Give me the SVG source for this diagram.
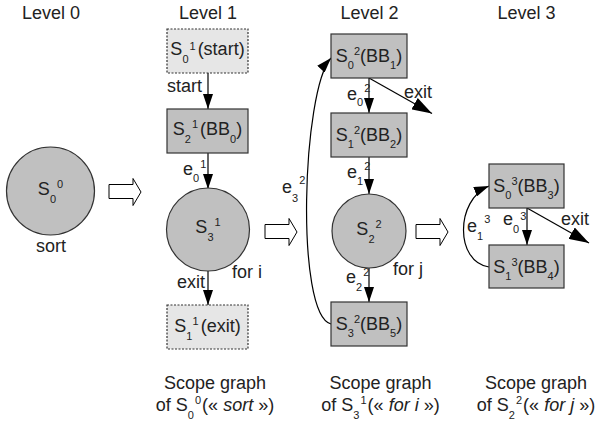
<svg xmlns="http://www.w3.org/2000/svg" width="599" height="426" viewBox="0 0 599 426">
<style>
text{font-family:"Liberation Sans",Arial,sans-serif;font-size:18px;fill:#222}
.m{text-anchor:middle}
.s{font-size:11px}
.i{font-style:italic}
.box{fill:#c0c0c0;stroke:#333;stroke-width:1.2}
.dbox{fill:#e6e6e6;stroke:#333;stroke-width:1.2;stroke-dasharray:2,1.5}
.circ{fill:#c0c0c0;stroke:#333;stroke-width:1.2}
.edge{fill:none;stroke:#000;stroke-width:1.2}
.blk{fill:#fff;stroke:#000;stroke-width:1}
</style>
<defs>
<marker id="arr" markerUnits="userSpaceOnUse" markerWidth="15" markerHeight="10" refX="15" refY="5" orient="auto">
<path d="M0,0 L15,5 L0,10 Z" fill="#000"/>
</marker>
<marker id="arrx" markerUnits="userSpaceOnUse" markerWidth="20" markerHeight="13" refX="20" refY="6.5" orient="auto">
<path d="M0,0 L20,6.5 L0,13 Z" fill="#000"/>
</marker>
<path id="blockArrow" d="M0,6 H24 V0 L32,13.5 L24,27 V20 H0 Z"/>
</defs>

<g id="titles">
<text class="m" x="51" y="19">Level 0</text>
<text class="m" x="208" y="19">Level 1</text>
<text class="m" x="369.5" y="19">Level 2</text>
<text class="m" x="526.5" y="19">Level 3</text>
</g>

<g id="transitions">
<use href="#blockArrow" class="blk" x="109" y="178.5"/>
<use href="#blockArrow" class="blk" x="265" y="218.5"/>
<use href="#blockArrow" class="blk" x="416" y="218.5"/>
</g>

<g id="connectors">
<line class="edge" x1="208" y1="73" x2="208" y2="109" marker-end="url(#arr)"/>
<line class="edge" x1="208" y1="153" x2="208" y2="189" marker-end="url(#arr)"/>
<line class="edge" x1="208" y1="271" x2="208" y2="305" marker-end="url(#arr)"/>
<line class="edge" x1="369" y1="78" x2="369" y2="113" marker-end="url(#arr)"/>
<line class="edge" x1="369" y1="78" x2="432" y2="113.5" marker-end="url(#arrx)"/>
<line class="edge" x1="369" y1="157" x2="369" y2="194" marker-end="url(#arr)"/>
<line class="edge" x1="369" y1="268" x2="369" y2="302" marker-end="url(#arr)"/>
<path class="edge" d="M331,324 C295,315 302,90 331,58" marker-end="url(#arr)"/>
<line class="edge" x1="527" y1="208" x2="527" y2="245" marker-end="url(#arr)"/>
<line class="edge" x1="527" y1="208" x2="589" y2="243" marker-end="url(#arrx)"/>
<path class="edge" d="M489,267 C455,262 455,200 489,186" marker-end="url(#arr)"/>
<text x="167" y="92">start</text>
<text x="183" y="175">e<tspan class="s" dy="7">0</tspan><tspan class="s" dx="1" dy="-14">1</tspan></text>
<text x="177" y="288">exit</text>
<text x="347" y="100">e<tspan class="s" dy="6">0</tspan><tspan class="s" dx="1" dy="-14">2</tspan></text>
<text x="404" y="98">exit</text>
<text x="347" y="178">e<tspan class="s" dy="7">1</tspan><tspan class="s" dx="1" dy="-15">2</tspan></text>
<text x="346" y="283">e<tspan class="s" dy="8">2</tspan><tspan class="s" dx="1" dy="-15">2</tspan></text>
<text x="282" y="193">e<tspan class="s" dy="9">3</tspan><tspan class="s" dx="1" dy="-18">2</tspan></text>
<text x="503" y="225">e<tspan class="s" dy="8">0</tspan><tspan class="s" dx="1" dy="-13">3</tspan></text>
<text x="561" y="225">exit</text>
<text x="467" y="232">e<tspan class="s" dy="8">1</tspan><tspan class="s" dx="1" dy="-17">3</tspan></text>
</g>

<g id="n_S00">
<circle class="circ" cx="50.5" cy="191" r="44"/>
<text class="m" x="50.5" y="195">S<tspan class="s" dy="8">0</tspan><tspan class="s" dx="1" dy="-15">0</tspan></text>
<text class="m" x="51" y="252">sort</text>
</g>

<g id="n_S01">
<rect class="dbox" x="167" y="29" width="81" height="44"/>
<text class="m" x="207.5" y="55">S<tspan class="s" dy="8">0</tspan><tspan class="s" dx="1" dy="-13">1</tspan><tspan dx="2" dy="5">(start)</tspan></text>
</g>

<g id="n_S21">
<rect class="box" x="167" y="109" width="81" height="44"/>
<text class="m" x="207.5" y="135">S<tspan class="s" dy="8">2</tspan><tspan class="s" dx="1" dy="-15">1</tspan><tspan dx="2" dy="7">(BB</tspan><tspan class="s" dy="8">0</tspan><tspan dy="-8">)</tspan></text>
</g>

<g id="n_S31">
<circle class="circ" cx="208" cy="229.5" r="41.5"/>
<text class="m" x="208" y="233">S<tspan class="s" dy="8">3</tspan><tspan class="s" dx="1" dy="-15">1</tspan></text>
<text x="232" y="278">for i</text>
</g>

<g id="n_S11">
<rect class="dbox" x="167" y="305" width="81" height="44"/>
<text class="m" x="207.5" y="332">S<tspan class="s" dy="8">1</tspan><tspan class="s" dx="1" dy="-15">1</tspan><tspan dx="2" dy="7">(exit)</tspan></text>
</g>

<g id="n_S02">
<rect class="box" x="331" y="34" width="76" height="44"/>
<text class="m" x="369" y="62">S<tspan class="s" dy="7">0</tspan><tspan class="s" dy="-14">2</tspan><tspan dy="7">(BB</tspan><tspan class="s" dy="7">1</tspan><tspan dy="-7">)</tspan></text>
</g>

<g id="n_S12">
<rect class="box" x="331" y="113" width="76" height="44"/>
<text class="m" x="369" y="141">S<tspan class="s" dy="7">1</tspan><tspan class="s" dy="-14">2</tspan><tspan dy="7">(BB</tspan><tspan class="s" dy="7">2</tspan><tspan dy="-7">)</tspan></text>
</g>

<g id="n_S22">
<circle class="circ" cx="369" cy="231" r="37"/>
<text class="m" x="369" y="235">S<tspan class="s" dy="8">2</tspan><tspan class="s" dx="1" dy="-15">2</tspan></text>
<text x="393" y="275">for j</text>
</g>

<g id="n_S32">
<rect class="box" x="331" y="302" width="76" height="44"/>
<text class="m" x="369" y="330">S<tspan class="s" dy="7">3</tspan><tspan class="s" dy="-14">2</tspan><tspan dy="7">(BB</tspan><tspan class="s" dy="7">5</tspan><tspan dy="-7">)</tspan></text>
</g>

<g id="n_S03">
<rect class="box" x="489" y="164" width="75" height="44"/>
<text class="m" x="526.5" y="192">S<tspan class="s" dy="7">0</tspan><tspan class="s" dy="-14">3</tspan><tspan dy="7">(BB</tspan><tspan class="s" dy="7">3</tspan><tspan dy="-7">)</tspan></text>
</g>

<g id="n_S13">
<rect class="box" x="489" y="245" width="75" height="43"/>
<text class="m" x="526.5" y="273">S<tspan class="s" dy="7">1</tspan><tspan class="s" dy="-14">3</tspan><tspan dy="7">(BB</tspan><tspan class="s" dy="7">4</tspan><tspan dy="-7">)</tspan></text>
</g>

<g id="captions">
<text class="m" x="215" y="389">Scope graph</text>
<text class="m" x="215" y="411">of S<tspan class="s" dy="8">0</tspan><tspan class="s" dx="1" dy="-15">0</tspan><tspan dx="1" dy="7">(« </tspan><tspan class="i">sort</tspan><tspan> »)</tspan></text>
<text class="m" x="380.5" y="389">Scope graph</text>
<text class="m" x="380.5" y="411">of S<tspan class="s" dy="8">3</tspan><tspan class="s" dx="1" dy="-15">1</tspan><tspan dx="1" dy="7">(« </tspan><tspan class="i">for i</tspan><tspan> »)</tspan></text>
<text class="m" x="536" y="389">Scope graph</text>
<text class="m" x="536" y="411">of S<tspan class="s" dy="8">2</tspan><tspan class="s" dx="1" dy="-15">2</tspan><tspan dx="1" dy="7">(« </tspan><tspan class="i">for j</tspan><tspan> »)</tspan></text>
</g>
</svg>
